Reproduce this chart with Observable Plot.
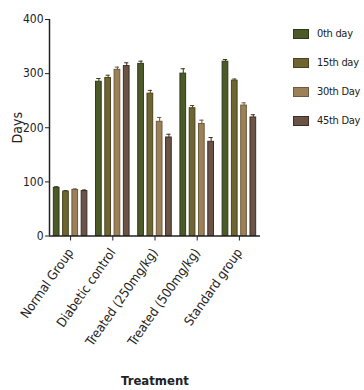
<!DOCTYPE html>
<html><head><meta charset="utf-8">
<script src="https://cdn.jsdelivr.net/npm/d3@7"></script>
<script src="https://cdn.jsdelivr.net/npm/@observablehq/plot@0.6"></script>
<style>
body{margin:0;background:#fff;}
#wrap{position:relative;width:364px;height:390px;font-family:"DejaVu Sans Condensed","Liberation Sans Narrow",sans-serif;}
#legend{position:absolute;left:293px;top:19px;}
.item{display:flex;align-items:center;height:29px;font-size:11px;color:#222;white-space:nowrap;letter-spacing:-0.3px}
.sw{width:14px;height:8px;border:1px solid;margin-right:8px;flex:none}
svg [aria-label="x-axis label"]{font-size:13px;font-weight:bold;}
svg [aria-label="y-axis label"]{font-size:14px;}
svg [aria-label="x-axis tick label"]{font-size:13px;}
svg [aria-label="y-axis tick label"]{font-size:12px;}
</style></head><body><div id="wrap"><div id="chart"></div><div id="legend"></div></div>
<script>
const groups = ["Normal Group","Diabetic control","Treated (250mg/kg)","Treated (500mg/kg)","Standard group"];
const days = ["0th day","15th day","30th Day","45th Day"];
const day0 = [89, 285, 318, 300, 322];
const day15 = [82, 292, 263, 236, 287];
const day30 = [85, 307, 211, 207, 241];
const day45 = [83, 314, 182, 174, 219];
const err0 = [2, 6, 5, 9, 4];
const err15 = [2, 5, 6, 5, 3];
const err30 = [2, 5, 8, 7, 5];
const err45 = [2, 6, 6, 8, 5];
const yTicks = [0, 100, 200, 300, 400];
const fills = ["#4b5a27", "#6f6530", "#9c8058", "#6b5346"];
const strokes = ["#2e3a18", "#4a4220", "#6e5a3e", "#3e2e26"];

const series = [day0, day15, day30, day45];
const errs = [err0, err15, err30, err45];
const rows = groups.flatMap((g, i) => days.map((d, j) => ({gi: i, di: j, day: d, v: series[j][i], e: errs[j][i]})));
const pitch = 0.22, bw = 0.135;
const cx = r => r.gi + (r.di - 1.5) * pitch;

const chart = Plot.plot({
  width: 364, height: 390,
  marginLeft: 49, marginRight: 104, marginTop: 19, marginBottom: 154.5,
  style: {fontFamily: '"DejaVu Sans Condensed","Liberation Sans Narrow",sans-serif', fontSize: "12px", color: "#222", background: "#fff"},
  x: {domain: [-0.5, 4.5], ticks: d3.range(groups.length), tickFormat: i => groups[i], tickRotate: -55, tickSize: 5, tickPadding: 9,
      label: "Treatment", labelAnchor: "center", labelOffset: 149, labelArrow: "none"},
  y: {domain: [0, 400], ticks: yTicks, tickSize: 4, tickPadding: 2,
      label: "Days", labelAnchor: "center", labelOffset: 37, labelArrow: "none"},
  marks: [
    Plot.ruleX(rows, {x: cx, y1: "v", y2: r => r.v + r.e, stroke: r => strokes[r.di]}),
    Plot.ruleY(rows, {y: r => r.v + r.e, x1: r => cx(r) - 0.05, x2: r => cx(r) + 0.05, stroke: r => strokes[r.di]}),
    ...days.map((d, j) => Plot.rectY(rows.filter(r => r.di === j), {
      x1: r => cx(r) - bw / 2, x2: r => cx(r) + bw / 2, y: "v",
      fill: fills[j], stroke: strokes[j], strokeWidth: 1
    })),
    Plot.ruleX([-0.5], {stroke: "#222", strokeWidth: 1.5}),
    Plot.ruleY([0], {stroke: "#222", strokeWidth: 1.5})
  ]
});
document.getElementById("chart").append(chart);

const leg = d3.select("#legend");
days.forEach((d, j) => {
  const it = leg.append("div").attr("class", "item");
  it.append("div").attr("class", "sw").style("background", fills[j]).style("border-color", strokes[j]);
  it.append("span").text(d);
});
</script></body></html>
